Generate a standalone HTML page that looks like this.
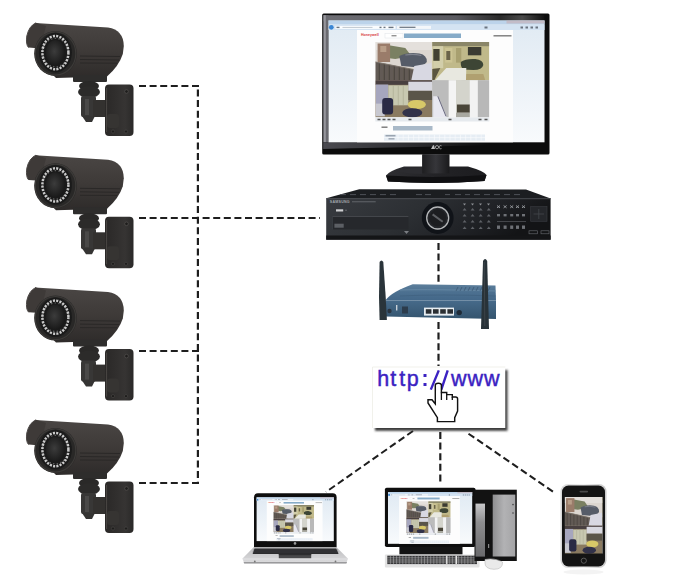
<!DOCTYPE html>
<html><head><meta charset="utf-8">
<style>
html,body{margin:0;padding:0;background:#fff;width:680px;height:582px;overflow:hidden}
svg{display:block}
text{font-family:"Liberation Sans",sans-serif}
</style></head>
<body>
<svg width="680" height="582" viewBox="0 0 680 582">
<defs>
  <linearGradient id="camBody" x1="0" y1="0" x2="0" y2="1">
    <stop offset="0" stop-color="#4a4644"/>
    <stop offset="0.5" stop-color="#3e3a38"/>
    <stop offset="1" stop-color="#2e2b2a"/>
  </linearGradient>
  <radialGradient id="lensG" cx="0.45" cy="0.45" r="0.6">
    <stop offset="0" stop-color="#3c3c3c"/>
    <stop offset="1" stop-color="#161616"/>
  </radialGradient>
  <linearGradient id="plateG" x1="0" y1="0" x2="1" y2="0">
    <stop offset="0" stop-color="#2a2827"/>
    <stop offset="0.7" stop-color="#363433"/>
    <stop offset="1" stop-color="#2a2928"/>
  </linearGradient>
  <g id="cam">
    <path d="M35 23 L108 27.5 Q123.6 30 123.8 46 L122.8 54 Q119 66 107 76.5 L56 78 L38 60 L36 48 Z" fill="url(#camBody)"/>
    <path d="M36 22.8 Q29 26 26.8 36 Q25.6 44.5 28.6 47.6 L40 48.5 L46 26 Z" fill="#3e3a38"/>
    <path d="M36 22.8 Q29 26 26.8 36 Q25.6 44.5 28.6 47.6" fill="none" stroke="#4c4846" stroke-width="1"/>
    <ellipse cx="55.5" cy="53.5" rx="21.3" ry="22.5" fill="#292827"/>
    <ellipse cx="55.5" cy="53.5" rx="20.3" ry="21.6" fill="none" stroke="#3c3a38" stroke-width="1.2"/>
    <ellipse cx="55.4" cy="52.6" rx="16.5" ry="19.8" fill="#1a1a1a"/>
    <ellipse cx="55.4" cy="52.6" rx="13" ry="16.6" fill="none" stroke="#dadada" stroke-width="2.5" stroke-dasharray="2.1 1.25" opacity="0.92"/>
    <ellipse cx="55.4" cy="52.6" rx="13" ry="14.2" fill="none" stroke="#bdbdbd" stroke-width="1.2" stroke-dasharray="1.5 2.2" opacity="0.45"/>
    <ellipse cx="55.4" cy="52.6" rx="9.6" ry="12.6" fill="url(#lensG)"/>
    <path d="M80 56 L120 56.5 M80 59.5 L119 60 M80 63 L117 63.2" stroke="#2a2827" stroke-width="1"/>
    <rect x="73" y="75" width="34" height="7" rx="1" fill="#2e2d2c"/>
    <ellipse cx="89" cy="86" rx="10" ry="5" fill="#2a2928"/>
    <ellipse cx="89" cy="92" rx="11" ry="6" fill="#2c2b2a"/>
    <rect x="81" y="96" width="15" height="21" rx="2" fill="#383736"/>
    <rect x="85" y="99" width="4" height="16" fill="#4a4948"/>
    <path d="M82 116 L95 116 L92 122 L86 122 Z" fill="#353433"/>
    <rect x="93" y="100" width="14" height="17" fill="#33312f"/>
    <rect x="105" y="84.4" width="28.5" height="51.6" rx="4" fill="url(#plateG)"/>
    <path d="M106.6 88 V132" stroke="#4a4745" stroke-width="1"/>
    <rect x="107" y="114" width="12" height="14" rx="3" fill="#363432"/>
    <circle cx="126.5" cy="91.5" r="1.8" fill="#1e1d1c" stroke="#5a5856" stroke-width="0.6"/>
    <circle cx="113" cy="131.5" r="1.6" fill="#1e1d1c" stroke="#4a4846" stroke-width="0.6"/>
    <circle cx="126" cy="131.5" r="1.6" fill="#1e1d1c" stroke="#4a4846" stroke-width="0.6"/>
  </g>

  <!-- 4-quadrant CCTV grid, local 114 x 75.4 -->
  <filter id="soft" x="-5%" y="-5%" width="110%" height="110%"><feGaussianBlur stdDeviation="0.75"/></filter>
  <clipPath id="gridClip"><rect x="0" y="0" width="114" height="75.4"/></clipPath>
  <g id="grid" clip-path="url(#gridClip)"><g filter="url(#soft)">
    <!-- Q1 outdoor -->
    <rect x="0" y="0" width="57" height="38.3" fill="#dcd6d0"/>
    <path d="M0 0 H57 V8 H0 Z" fill="#e4e0dc"/>
    <path d="M12 3 L30 6 L36 14 L20 17 L12 16 Z" fill="#7a8062"/>
    <rect x="2.3" y="1.5" width="12.5" height="18.5" fill="#9a7c6a"/>
    <rect x="5" y="4" width="6" height="6" fill="#b89e88"/>
    <path d="M24 14 Q32 10 44 11.5 Q52 13 51.5 20 Q48 25 38 25 L26 24 Z" fill="#565c68"/>
    <path d="M30 13 Q38 11.5 46 13.5" stroke="#80848e" stroke-width="1.2" fill="none"/>
    <path d="M0 19.7 L40.6 27.9 L40 38.3 L0 38.3 Z" fill="#625a54"/>
    <path d="M4 21 V38 M9 22 V38 M14 23 V38 M19 24 V38 M24 25 V38 M29 26 V38 M34 27 V38" stroke="#4a4440" stroke-width="1.1"/>
    <path d="M0 20 L40.6 28" stroke="#7a726a" stroke-width="1.2"/>
    <path d="M39 24 L56 21 L57 38.3 L36 38.3 Z" fill="#d8d8e2"/>
    <!-- Q2 room -->
    <rect x="57" y="0" width="57" height="38.3" fill="#c0b98a"/>
    <rect x="57" y="0" width="57" height="4.2" fill="#8a8668"/>
    <rect x="57.9" y="4.2" width="10" height="22" fill="#d2ceaa"/>
    <rect x="58" y="7" width="6.3" height="11.8" fill="#424130"/>
    <rect x="69.8" y="6" width="7.2" height="14.6" fill="#ccc494"/>
    <rect x="71" y="9" width="4" height="9" fill="#6a6448"/>
    <rect x="80.7" y="6" width="5.3" height="14.6" fill="#a8a070"/>
    <rect x="92.6" y="5" width="13.4" height="8.3" fill="#3a3a30"/>
    <path d="M85.5 20 Q90 16.5 100 17 Q108 18 108 23 Q107 28 98 28 L88 27.5 Q85 25 85.5 20 Z" fill="#3c4434"/>
    <path d="M86 32 L108 32 L110 38.3 L86 38.3 Z" fill="#b0a070"/>
    <path d="M59.7 38.3 L71 26 L91 26 L90.7 38.3 Z" fill="#e8e8e0"/>
    <path d="M57 27 L65 26 L59 38.3 L57 38.3 Z" fill="#5a5440"/>
    <!-- Q3 office -->
    <rect x="0" y="38.3" width="57" height="37.1" fill="#8a7a60"/>
    <rect x="0" y="38.3" width="57" height="4.5" fill="#4a4040"/>
    <rect x="0.5" y="42.5" width="12.5" height="26" fill="#a6a6be"/>
    <rect x="13" y="43.3" width="20" height="20" fill="#c8c8b0"/>
    <path d="M18 43.3 V63 M23 43.3 V63 M28 43.3 V63" stroke="#b0b098" stroke-width="0.8"/>
    <rect x="33" y="39.7" width="24" height="9.2" fill="#d8d8e0"/>
    <rect x="33" y="48.8" width="24" height="9.2" fill="#5a5448"/>
    <ellipse cx="41.5" cy="62.5" rx="9.1" ry="4.6" fill="#d8c868"/>
    <rect x="0.5" y="61.6" width="9" height="12.7" fill="#c8c8d0"/>
    <rect x="6.9" y="56.1" width="10.9" height="16.4" rx="3" fill="#2a2a44"/>
    <ellipse cx="37" cy="70.8" rx="10" ry="4.6" fill="#30304a"/>
    <!-- Q4 corridor -->
    <rect x="57" y="38.3" width="57" height="37.1" fill="#c8c8c6"/>
    <rect x="57" y="38.3" width="16.4" height="37.1" fill="#bcbcbc"/>
    <rect x="73.4" y="38.3" width="7.3" height="37.1" fill="#f4f4f4"/>
    <rect x="80.7" y="38.3" width="13.7" height="37.1" fill="#d4d4cc"/>
    <rect x="94.4" y="38.3" width="8.2" height="37.1" fill="#f2f2f2"/>
    <rect x="102.6" y="38.3" width="11.4" height="37.1" fill="#b8b8b8"/>
    <rect x="81.6" y="62.5" width="12.8" height="8.2" fill="#4a4438"/>
    <rect x="80.7" y="70.7" width="13.7" height="4.7" fill="#a8a8a0"/>
    <path d="M57.9 54.3 L62.5 54.3 L71.6 75.4 L57.9 75.4 Z" fill="#e8e8f0"/>
    <path d="M62.5 54.3 L70.7 74.3" stroke="#6a6a80" stroke-width="1"/>
  </g></g>

  <!-- browser screen content, local 216 x 121.8 -->
  <linearGradient id="sideG" x1="0" y1="0" x2="0" y2="1">
    <stop offset="0" stop-color="#e0eaf3"/>
    <stop offset="1" stop-color="#f8fafc"/>
  </linearGradient>
  <g id="screen">
    <rect x="0" y="0" width="216" height="121.8" fill="url(#sideG)"/>
    <rect x="0" y="0" width="216" height="4" fill="#bcd3ea"/>
    <rect x="0" y="4" width="216" height="5.5" fill="#d4e3f2"/>
    <circle cx="2.8" cy="6.8" r="2.4" fill="#3a86d4"/>
    <rect x="7" y="5.4" width="60" height="3" fill="#fafcfe"/>
    <rect x="68.5" y="5.4" width="34" height="3" fill="#f4f7fa"/>
    <rect x="178" y="0" width="38" height="3" fill="#c9a6a6" opacity="0.5"/>
    <g fill="#6a7480"><rect x="8" y="6.2" width="3" height="1.4"/><rect x="51" y="6.2" width="2" height="1.4"/><rect x="55" y="6.2" width="2" height="1.4"/><rect x="60" y="6.2" width="5" height="1.4"/><rect x="71" y="6.2" width="16" height="1.2"/><rect x="156" y="6" width="3" height="2"/><rect x="192" y="6" width="2.5" height="2"/><rect x="197" y="6" width="2.5" height="2"/><rect x="202" y="6" width="2.5" height="2"/><rect x="207" y="6" width="2.5" height="2"/></g>
    <rect x="14" y="6.4" width="30" height="1" fill="#c0c8d0"/>
    <rect x="28.5" y="9.5" width="156" height="112.3" fill="#fdfdfd"/>
    <text x="32.5" y="15.8" font-size="3.6" fill="#d83a3a" font-weight="bold">Honeywell</text>
    <rect x="56.5" y="13" width="18" height="4.5" fill="#ffffff" stroke="#d8dde2" stroke-width="0.4"/>
    <rect x="63" y="14.8" width="5" height="1" fill="#666"/>
    <rect x="75.5" y="13" width="57" height="4.5" fill="#86abc8"/>
    <rect x="165" y="14.6" width="18" height="1.4" fill="#7a7a7a"/>
    <use href="#grid" x="46.8" y="21.5"/>
    <rect x="46.8" y="97" width="114" height="4" fill="#e6eaee"/>
    <path d="M49 99 h3 M54 99 h3 M59 99 h3 M64 99 h3 M80 99 h3 M120 99 h3 M150 99 h3 M156 99 h3" stroke="#555" stroke-width="1.4"/>
    <rect x="53" y="106" width="6" height="1.4" fill="#777"/>
    <rect x="64.5" y="105.5" width="39.5" height="4.5" fill="#a9b9c8"/>
    <rect x="55.5" y="114" width="101" height="6.2" fill="#e6edf4"/>
    <rect x="57" y="114.4" width="10" height="1.6" fill="#9aa4b0"/>
    <rect x="60" y="117.6" width="6" height="1.4" fill="#9aa4b0"/>
    <path d="M55.5 117.1 H156.5 M69.5 114 V120.2 M74.7 114 V120.2 M79.9 114 V120.2 M85.1 114 V120.2 M90.3 114 V120.2 M95.5 114 V120.2 M100.7 114 V120.2 M105.9 114 V120.2 M111.1 114 V120.2 M116.3 114 V120.2 M121.5 114 V120.2 M126.7 114 V120.2 M131.9 114 V120.2 M137.1 114 V120.2 M142.3 114 V120.2 M147.5 114 V120.2 M152.7 114 V120.2 M157.9 114 V120.2" stroke="#fbfcfd" stroke-width="0.6"/>
  </g>
</defs>

<!-- cameras -->
<use href="#cam" x="0" y="0"/>
<use href="#cam" x="0" y="132.3"/>
<use href="#cam" x="0" y="264.6"/>
<use href="#cam" x="0" y="397"/>

<!-- dashed lines -->
<g stroke="#1e1e1e" stroke-width="2.2" stroke-dasharray="7 3.6" fill="none">
  <path d="M139 86 H199.5"/>
  <path d="M139 218 H320"/>
  <path d="M139 351 H199.5"/>
  <path d="M139 483 H199.5"/>
  <path d="M197.9 89.5 V483"/>
  <path d="M438.5 243 V283"/>
  <path d="M438.5 322 V366"/>
  <path d="M440.3 432 V482"/>
  <path d="M413 431 L326 492" stroke-width="2"/>
  <path d="M468.5 433.7 L554.6 492.8" stroke-width="2"/>
</g>

<!-- monitor -->
<linearGradient id="bezTop" x1="0" y1="0" x2="1" y2="0">
  <stop offset="0" stop-color="#6e6e74"/>
  <stop offset="0.6" stop-color="#5a5a60"/>
  <stop offset="0.8" stop-color="#2a2a2a"/>
  <stop offset="0.9" stop-color="#4a4a4a"/>
  <stop offset="1" stop-color="#111"/>
</linearGradient>
<linearGradient id="bezBot" x1="0" y1="0" x2="1" y2="0">
  <stop offset="0" stop-color="#4a4a50"/>
  <stop offset="0.45" stop-color="#2a2a2c"/>
  <stop offset="0.75" stop-color="#0c0c0c"/>
  <stop offset="1" stop-color="#0a0a0a"/>
</linearGradient>
<rect x="322.2" y="13.5" width="227.3" height="140.9" rx="1.5" fill="#0c0c0c"/>
<rect x="323.2" y="15.2" width="221.2" height="6" fill="url(#bezTop)"/>
<rect x="323.2" y="15.2" width="5.3" height="127" fill="#6a6a70"/>
<rect x="323.8" y="15.2" width="2" height="127" fill="#96969c"/>
<path d="M323.2 142.3 L544.4 142.3 L544.4 143.5 Q470 146 323.2 149 Z" fill="url(#bezBot)"/>
<use href="#screen" x="328.5" y="20.5"/>
<g fill="#bdbdbd"><path d="M431 149 L433 145.3 L434 145.3 L435 149 Z"/><circle cx="437" cy="147.2" r="1.6" fill="none" stroke="#bdbdbd" stroke-width="0.8"/><path d="M441.5 145.8 A1.6 1.6 0 1 0 441.5 148.6" fill="none" stroke="#bdbdbd" stroke-width="0.8"/></g>
<linearGradient id="neckG" x1="0" y1="0" x2="1" y2="0">
  <stop offset="0" stop-color="#1e1e20"/>
  <stop offset="0.5" stop-color="#36363a"/>
  <stop offset="1" stop-color="#1a1a1c"/>
</linearGradient>
<rect x="422.3" y="154.4" width="27" height="19.5" fill="url(#neckG)"/>
<linearGradient id="baseG" x1="0" y1="0" x2="1" y2="0"><stop offset="0" stop-color="#2e2e32"/><stop offset="0.5" stop-color="#232326"/><stop offset="1" stop-color="#1c1c1f"/></linearGradient>
<path d="M404 166.5 L468 166.5 Q484 171 486.5 175 L484.5 181 Q436 184.5 388 181.5 L386 175.5 Q389 171 404 166.5 Z" fill="url(#baseG)"/>
<path d="M386 175.5 Q436 178.5 486.5 175 L484.5 181 Q436 184.5 388 181.5 Z" fill="#101012"/>
<path d="M395 171 Q410 167.5 422.3 167.5 L422.3 174 Q405 174 395 171 Z" fill="#2c2c30"/>
<rect x="422.3" y="154.4" width="27" height="19" fill="url(#neckG)"/>

<!-- DVR -->
<path d="M326.2 198.2 L359.2 189.2 L526 189.5 L550.6 198.5 Z" fill="#1c1e21"/>
<path d="M340 194.6 h6 M350 194.6 h6 M360 194.6 h6 M370 194.6 h6 M380 194.6 h6 M390 194.6 h6 M416 194.6 h6 M425 194.6 h6 M445 194.6 h5 M455 194.6 h6 M465 194.6 h5 M474 194.6 h6 M484 194.6 h6 M494 194.6 h6 M504 194.6 h6 M514 194.6 h6" stroke="#54575c" stroke-width="0.9"/>
<linearGradient id="dvrG" x1="0" y1="0" x2="1" y2="0.25">
  <stop offset="0" stop-color="#383b40"/>
  <stop offset="0.45" stop-color="#2c2f33"/>
  <stop offset="0.75" stop-color="#202226"/>
  <stop offset="1" stop-color="#131416"/>
</linearGradient>
<rect x="326.2" y="198.2" width="224.4" height="41.5" fill="url(#dvrG)"/>
<rect x="326.2" y="198.2" width="224.4" height="1" fill="#45484d"/>
<rect x="326.2" y="235.5" width="224.4" height="4.2" fill="#141517"/>
<text x="329.8" y="203.2" font-size="3.6" fill="#a4a8ac" font-weight="bold" letter-spacing="0.25">SAMSUNG</text>
<rect x="352" y="201.2" width="23.7" height="1.1" fill="#5e6166"/>
<rect x="336" y="209.3" width="7.2" height="2.2" fill="#cfd0d2"/>
<circle cx="346" cy="210.3" r="0.8" fill="#6a6c70"/>
<rect x="332.4" y="216.5" width="76" height="12.9" fill="#26282c"/>
<path d="M332.4 216.5 H408.4" stroke="#4a4d52" stroke-width="0.8"/>
<path d="M332.4 216.5 V229.4" stroke="#3e4146" stroke-width="0.8"/>
<rect x="334.4" y="223.7" width="9.3" height="4" fill="#5c5f64"/>
<path d="M404 231 l5 0 l-2.5 3 Z" fill="#7a7d82"/>
<circle cx="437.7" cy="218" r="15.9" fill="#101318"/>
<circle cx="437.7" cy="218" r="11" fill="#24262a" stroke="#b4b6b8" stroke-width="1.3"/>
<circle cx="437.7" cy="218" r="8.5" fill="#1c1d20"/>
<path d="M432.6 214.4 L442.7 221.7" stroke="#5e6064" stroke-width="2"/>
<g fill="#8e9196">
  <path d="M463 203.6 l3 0 l-1.5 1.8 Z M471 203.6 l3 0 l-1.5 1.8 Z M479 203.6 l3 0 l-1.5 1.8 Z M487 203.6 l3 0 l-1.5 1.8 Z"/>
</g>
<g fill="#5e6166">
  <path d="M464.6 208 l-2 2.6 h4 Z M472.6 208 l-2 2.6 h4 Z M480.7 208 l-2 2.6 h4 Z M488.8 208 l-2 2.6 h4 Z"/>
  <path d="M464.6 214 l-2 2.6 h4 Z M472.6 214 l-2 2.6 h4 Z M480.7 214 l-2 2.6 h4 Z M488.8 214 l-2 2.6 h4 Z"/>
  <path d="M464.6 220 l-2 2.6 h4 Z M472.6 220 l-2 2.6 h4 Z M480.7 220 l-2 2.6 h4 Z M488.8 220 l-2 2.6 h4 Z"/>
  <path d="M464.6 226.5 l-2 2.6 h4 Z M472.6 226.5 l-2 2.6 h4 Z M480.7 226.5 l-2 2.6 h4 Z M488.8 226.5 l-2 2.6 h4 Z"/>
</g>
<g stroke="#9a9da2" stroke-width="0.9">
  <path d="M497 205.5 l3 2.4 M500 205.5 l-3 2.4 M503.6 205.5 l3 2.4 M506.6 205.5 l-3 2.4 M510.2 205.5 l3 2.4 M513.2 205.5 l-3 2.4 M516 205.5 l3 2.4 M519 205.5 l-3 2.4 M522 205.5 l3 2.4 M525 205.5 l-3 2.4"/>
</g>
<g fill="#6e7176">
  <rect x="497" y="214" width="3" height="2.4"/><rect x="503.6" y="214" width="3" height="2.4"/><rect x="510.2" y="214" width="3" height="2.4"/><rect x="516" y="214" width="3" height="2.4"/><rect x="522" y="214" width="3" height="2.4"/>
  <rect x="497" y="221" width="29" height="0.5"/>
  <rect x="497" y="225.5" width="3" height="3.4"/><rect x="503.6" y="225.5" width="3" height="3.4"/><rect x="510.2" y="225.5" width="3" height="3.4"/><rect x="516" y="225.5" width="3" height="3.4"/><rect x="522" y="225.5" width="3" height="3.4"/>
</g>
<rect x="530.7" y="206.6" width="16.3" height="14.7" fill="#25272b" stroke="#3a3d42" stroke-width="0.6"/>
<path d="M538.8 209 v10 M533.5 214 h10.6" stroke="#44474c" stroke-width="0.8"/>
<rect x="529" y="230.8" width="8.4" height="3" fill="none" stroke="#6a6d72" stroke-width="0.6"/>
<rect x="541" y="230.8" width="8" height="3" fill="none" stroke="#6a6d72" stroke-width="0.6"/>

<!-- router -->
<linearGradient id="rtTop" x1="0" y1="0" x2="0" y2="1">
  <stop offset="0" stop-color="#5d7f9c"/>
  <stop offset="0.5" stop-color="#4c7090"/>
  <stop offset="1" stop-color="#436788"/>
</linearGradient>
<linearGradient id="rtFront" x1="0" y1="0" x2="0" y2="1">
  <stop offset="0" stop-color="#466a8a"/>
  <stop offset="1" stop-color="#34546e"/>
</linearGradient>
<path d="M385.3 300.5 Q391 292 412.7 284.2 L495.5 285.5 L496 300.5 Z" fill="url(#rtTop)"/>
<path d="M400 290 Q430 289 495.8 291" stroke="#6c8eaa" stroke-width="1" fill="none" opacity="0.7"/>
<path d="M400 296 Q440 294 495.8 296" stroke="#3a5a78" stroke-width="0.8" fill="none" opacity="0.6"/>
<g stroke="#3a5670" stroke-width="0.9" opacity="0.8">
  <path d="M458 287 l-2 4 M462 287 l-2 4 M466 287 l-2 4 M470 287 l-2 4 M474 287 l-2 4 M478 287 l-2 4 M482 287 l-2 4 M490 287 l-2 4"/>
</g>
<path d="M385.3 300.5 L496 300.5 L496 319 L385.3 316.5 Z" fill="url(#rtFront)"/>
<rect x="424" y="307.6" width="30" height="8" fill="#e6ecf0"/>
<g fill="#2a2e32"><rect x="425.8" y="309.2" width="5.6" height="4.5"/><rect x="433" y="309.2" width="5.6" height="4.5"/><rect x="440.2" y="309.2" width="5.6" height="4.5"/><rect x="447.4" y="309.2" width="5.6" height="4.5"/></g>
<circle cx="459.2" cy="312.6" r="2.7" fill="#1e2a36"/>
<rect x="396" y="305" width="1.4" height="5.5" fill="#c8d0d8"/>
<rect x="402" y="306.5" width="6" height="7" fill="#2c3c4c"/>
<circle cx="389.5" cy="311" r="2.2" fill="#2a3440"/>
<path d="M379.6 262 Q381.4 258.8 383.3 262 L385.7 297 L386.9 320 L379.6 320 L379 297 Z" fill="#2a343a"/>
<path d="M483 261 Q485.1 256.8 487.2 261 L489 329 L481 329 Z" fill="#283238"/>
<path d="M484.2 262 L484.8 326" stroke="#40484e" stroke-width="0.8"/>

<!-- http box -->
<filter id="shBlur" x="-10%" y="-10%" width="120%" height="120%"><feGaussianBlur stdDeviation="0.9"/></filter>
<rect x="375" y="370" width="132.5" height="60.8" fill="#3a3a3a" filter="url(#shBlur)"/>
<rect x="372.5" y="367" width="132.8" height="61" fill="#fff"/>
<path d="M372.5 428 V367 H505.3" fill="none" stroke="#eeeee6" stroke-width="0.8"/>
<text y="386" font-size="21.5" fill="#3b22c2" stroke="#3b22c2" stroke-width="0.45">
  <tspan x="377.2">h</tspan><tspan x="390.2">t</tspan><tspan x="399.3">t</tspan><tspan x="406.7">p</tspan><tspan x="451.1">w</tspan><tspan x="467.5">w</tspan><tspan x="484">w</tspan>
</text>
<g fill="#3b22c2"><rect x="423.5" y="374" width="3" height="3"/><rect x="423.5" y="383" width="3" height="3"/></g>
<path d="M430.8 389.6 L438.8 370.4 M441.3 389.6 L447.7 370.4" stroke="#3b22c2" stroke-width="2.4"/>
<path d="M435.3 404 L435.3 385.3 Q435.3 383.3 438.35 383.3 Q441.4 383.3 441.4 385.3 L441.4 392.5 L446.7 392.5 L446.7 394.6 L452.3 394.6 L452.3 397 L455.6 397 Q457.6 397 457.6 399 L457.6 411 L454.7 417.6 L454.7 421.6 L437.4 421.6 L437.4 417.6 L428 403 L428 399.8 L432 399.8 Z" fill="#fff" stroke="#111" stroke-width="1.45" stroke-linejoin="miter"/>
<path d="M441.4 392.5 V400 M446.7 394.6 V400 M452.3 397 V400" stroke="#111" stroke-width="1.3"/>

<!-- laptop -->
<path d="M254 497.3 Q254 493.3 258 493.3 L332.6 493.3 Q336.6 493.3 336.6 497.3 L336.6 547.4 L254 547.4 Z" fill="#0e0e0e"/>
<g transform="translate(256.6 497.3) scale(0.3574 0.3596)"><use href="#screen"/></g>
<circle cx="295" cy="543.4" r="1.3" fill="#9a9a9a"/>
<linearGradient id="lapBase" x1="0" y1="0" x2="0" y2="1">
  <stop offset="0" stop-color="#bcbcbe"/>
  <stop offset="0.6" stop-color="#d0d0d2"/>
  <stop offset="1" stop-color="#dcdcde"/>
</linearGradient>
<path d="M253.6 547.2 L336.6 547.2 L347.8 558.6 L346.4 563.5 L244.2 563.5 L242.5 558.6 Z" fill="url(#lapBase)"/>
<path d="M242.5 558.6 L347.8 558.6 L347.4 559.6 L242.9 559.6 Z" fill="#e4e4e6"/>
<path d="M243.6 562 L347 562 L346.4 563.6 L244.2 563.6 Z" fill="#9a9a9c"/>
<circle cx="254.8" cy="561.5" r="0.9" fill="#777"/><circle cx="335.5" cy="561.5" r="0.9" fill="#777"/>
<path d="M254.5 548.6 L336.2 548.6 L338.6 553.9 L252.6 553.9 Z" fill="#2c2c2e"/>
<g stroke="#4a4a4c" stroke-width="0.4"><path d="M253 550 H338 M252.5 552 H338.5"/></g>
<rect x="278.8" y="554" width="32.4" height="4.2" fill="#4a4a4c"/>
<rect x="278.8" y="554" width="32.4" height="1.2" fill="#2e2e30"/>

<!-- desktop -->
<rect x="384.9" y="487.7" width="90.6" height="59.4" rx="1.8" fill="#0e0e0e"/>
<g transform="translate(388 492) scale(0.3898 0.4253)"><use href="#screen"/></g>
<rect x="399.4" y="547" width="63.1" height="7.6" fill="#141414"/>
<rect x="384.9" y="554.4" width="94.6" height="13" rx="1" fill="#e2e2e2"/>
<rect x="387.3" y="555.7" width="89.7" height="8.4" fill="#38383a"/>
<g stroke="#b8b8ba" stroke-width="0.5"><path d="M387.3 557.8 H477 M387.3 560 H477 M387.3 562 H477 M390.4 555.7 V564.1 M393.5 555.7 V564.1 M396.6 555.7 V564.1 M399.7 555.7 V564.1 M402.8 555.7 V564.1 M405.9 555.7 V564.1 M409.0 555.7 V564.1 M412.1 555.7 V564.1 M415.2 555.7 V564.1 M418.3 555.7 V564.1 M421.4 555.7 V564.1 M424.5 555.7 V564.1 M427.6 555.7 V564.1 M430.7 555.7 V564.1 M433.8 555.7 V564.1 M436.9 555.7 V564.1 M440.0 555.7 V564.1 M443.1 555.7 V564.1 M446.2 555.7 V564.1 M449.3 555.7 V564.1 M452.4 555.7 V564.1 M455.5 555.7 V564.1 M458.6 555.7 V564.1 M461.7 555.7 V564.1 M464.8 555.7 V564.1 M467.9 555.7 V564.1 M471.0 555.7 V564.1 M474.1 555.7 V564.1"/></g>
<g stroke="#e2e2e2" stroke-width="1.4"><path d="M446.8 555.7 V564.1 M456.4 555.7 V564.1"/></g>
<rect x="474.5" y="489.7" width="42.3" height="71.3" fill="#121212"/>
<linearGradient id="towSide" x1="0" y1="0" x2="0" y2="1">
  <stop offset="0" stop-color="#c8c8ca"/>
  <stop offset="0.35" stop-color="#8e8e90"/>
  <stop offset="1" stop-color="#6a6a6c"/>
</linearGradient>
<rect x="475.5" y="503.6" width="9.5" height="53" fill="url(#towSide)"/>
<linearGradient id="towFront" x1="0" y1="0" x2="1" y2="0">
  <stop offset="0" stop-color="#8e8e90"/>
  <stop offset="0.5" stop-color="#b2b2b4"/>
  <stop offset="1" stop-color="#a4a4a6"/>
</linearGradient>
<rect x="492.7" y="494.6" width="22.6" height="61.9" fill="url(#towFront)"/>
<circle cx="513" cy="504.6" r="0.8" fill="#444"/><circle cx="513" cy="513" r="0.8" fill="#444"/>
<rect x="488" y="544" width="1.2" height="4" fill="#888"/>
<path d="M485 559.5 Q494 557.5 502.5 562 Q503 569.3 494 569.3 Q485 569 485 563 Z" fill="#eaeaea" stroke="#b8b8b8" stroke-width="0.6"/>

<!-- phone -->
<linearGradient id="rimG" x1="0" y1="0" x2="1" y2="0">
  <stop offset="0" stop-color="#d8d8d8"/>
  <stop offset="0.5" stop-color="#f0f0f0"/>
  <stop offset="1" stop-color="#c8c8c8"/>
</linearGradient>
<ellipse cx="583.5" cy="572" rx="20" ry="2.6" fill="#f3f3f3"/>
<rect x="560.5" y="484" width="46" height="84" rx="7.5" fill="url(#rimG)"/>
<rect x="562" y="485.5" width="43" height="81" rx="6.5" fill="#141414"/>
<svg x="564.5" y="497" width="38.2" height="57.7" viewBox="0 0 57 86" preserveAspectRatio="none">
  <g transform="scale(1 1.12)">
  <use href="#grid"/>
  </g>
</svg>
<rect x="579.5" y="490.8" width="8.6" height="1.6" rx="0.8" fill="#4a4a4a"/>
<circle cx="583.8" cy="560.7" r="2.6" fill="none" stroke="#6a6a6a" stroke-width="0.8"/>
</svg>
</body></html>
